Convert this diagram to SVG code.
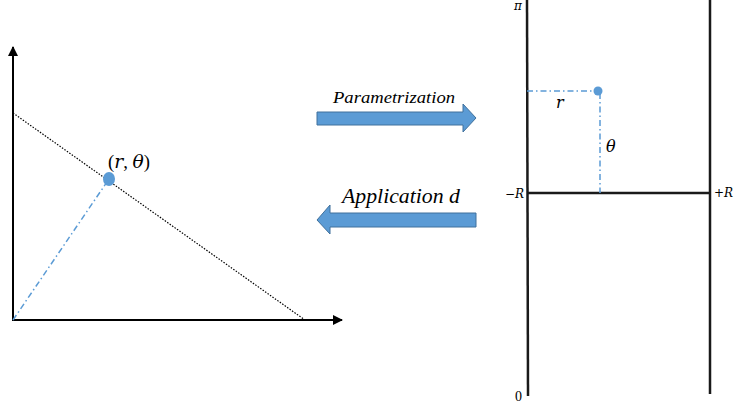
<svg xmlns="http://www.w3.org/2000/svg" width="735" height="406" viewBox="0 0 735 406">
<style>
.ax{stroke:#000;stroke-width:2;fill:none}
.dd{stroke:#5B9BD5;stroke-width:1.5;fill:none;stroke-dasharray:6 3 1.5 3}
.dot{stroke:#000;stroke-width:1.2;fill:none;stroke-dasharray:1.5 1.5}
.blk{stroke:#1a1a1a;stroke-width:2.5;fill:none}
.arr{fill:#5B9BD5;stroke:#41719C;stroke-width:1}
.m{font-family:'DejaVu Serif','Liberation Serif',serif;font-style:italic;fill:#000}
.t{font-family:'Liberation Serif',serif;font-style:italic;fill:#000}
.n{font-family:'Liberation Serif',serif;font-style:normal;fill:#000}
</style>
<defs>
<marker id="ah" viewBox="0 0 10 10" refX="9" refY="5" markerWidth="5" markerHeight="5" orient="auto"><path d="M0,0L10,5L0,10z" fill="#000"/></marker>
</defs>
<g id="connectors">
<line class="ax" x1="13" y1="321" x2="13" y2="47" marker-end="url(#ah)"/>
<line class="ax" x1="12" y1="320" x2="342" y2="320" marker-end="url(#ah)"/>
<line class="dot" x1="13" y1="113" x2="305" y2="320"/>
<line class="dd" x1="13" y1="320" x2="109" y2="179"/>
<line class="blk" x1="527" y1="0" x2="528" y2="396"/>
<line class="blk" x1="710" y1="0" x2="710" y2="394"/>
<line class="blk" x1="527" y1="193" x2="710" y2="193"/>
<line class="dd" x1="527" y1="91" x2="598" y2="91"/>
<line class="dd" x1="600" y1="93" x2="600" y2="193"/>
</g>
<g id="point-left"><ellipse cx="109" cy="179" rx="6" ry="7" fill="#5B9BD5"/><text x="108" y="168" font-size="18" textLength="42" lengthAdjust="spacingAndGlyphs"><tspan class="n">(</tspan><tspan class="m">r</tspan><tspan class="n">, </tspan><tspan class="m">θ</tspan><tspan class="n">)</tspan></text></g>
<g id="point-right"><circle cx="598" cy="91" r="4.5" fill="#5B9BD5"/></g>
<g id="arrow-param"><path class="arr" d="M317,112H463V104L476,118L463,132V125H317Z"/><text class="t" x="333" y="103" font-size="17" textLength="122" lengthAdjust="spacingAndGlyphs">Parametrization</text></g>
<g id="arrow-app"><path class="arr" d="M476,213H330V205L317,220L330,234V227H476Z"/><text class="t" x="342" y="203" font-size="20.5" textLength="118" lengthAdjust="spacingAndGlyphs">Application d</text></g>
<g id="labels">
<text class="m" x="556" y="108" font-size="16">r</text>
<text class="m" x="606" y="152" font-size="16">θ</text>
<text class="m" x="514" y="10" font-size="12">π</text>
<text class="m" x="505" y="198" font-size="12">−R</text>
<text class="m" x="714" y="197" font-size="12">+R</text>
<text class="n" x="515" y="401" font-size="14">0</text>
</g>
</svg>
